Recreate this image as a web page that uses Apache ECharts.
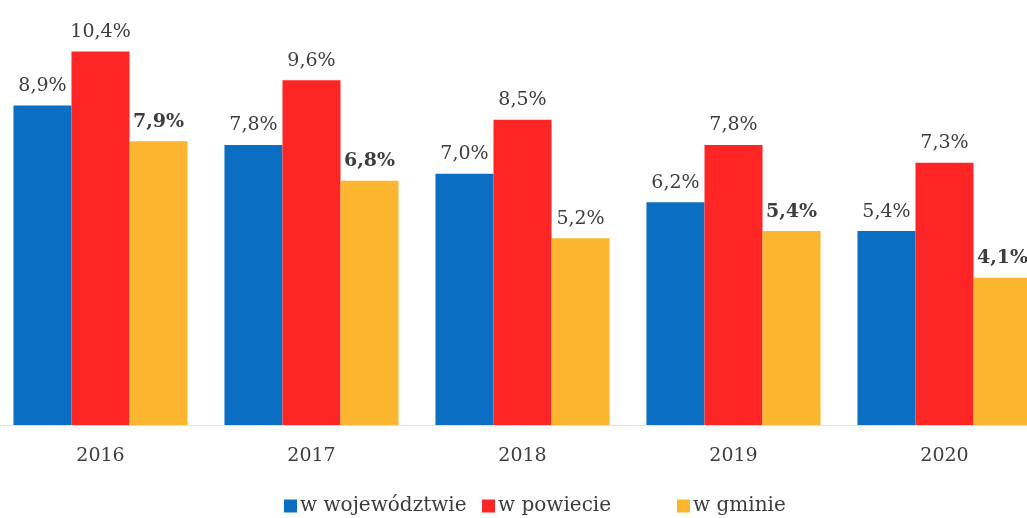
<!DOCTYPE html>
<html>
<head>
<meta charset="utf-8">
<script src="https://cdn.jsdelivr.net/npm/echarts@6/dist/echarts.min.js"></script>
<style>html,body{margin:0;padding:0;background:#fff;}#c{width:1027px;height:518px;}</style>
</head>
<body>
<div id="c"></div>
<script>
var years = ['2016', '2017', '2018', '2019', '2020'];
var seriesNames = ['w województwie', 'w powiecie', 'w gminie'];
var wojewodztwo = [8.9, 7.8, 7.0, 6.2, 5.4];
var powiat = [10.4, 9.6, 8.5, 7.8, 7.3];
var gmina = [7.9, 6.8, 5.2, 5.4, 4.1];
var boldGmina = [true, true, false, true, true];
var colors = ['#0a6fc2', '#fe2525', '#fcb52e'];

var FONT = '"DejaVu Serif", "Liberation Serif", serif';
function fmt(p) { return p.value.toFixed(1).replace('.', ',') + '%'; }
function mk(name, data, color, boldArr) {
  return {
    name: name, type: 'bar', barGap: '0%', barCategoryGap: '17.5%',
    data: data.map(function (v, i) {
      return { value: v, label: { fontWeight: boldArr && boldArr[i] ? 'bold' : 'normal' } };
    }),
    itemStyle: { color: color },
    label: { show: true, position: 'top', distance: 10, formatter: fmt,
      color: '#3d3d3d', fontFamily: FONT, fontSize: 19 }
  };
}
var chart = echarts.init(document.getElementById('c'));
var legendBase = { top: 496, padding: 0, itemWidth: 13, itemHeight: 13, itemGap: 4, icon: 'rect',
  textStyle: { fontFamily: FONT, fontSize: 20, color: '#3d3d3d', padding: [0, 0, 0, -2] } };
chart.setOption({
  animation: false,
  grid: { left: -5, width: 1055, top: 30, bottom: 93, containLabel: false, outerBoundsMode: 'none' },
  legend: [
    Object.assign({ left: 284, data: [seriesNames[0]] }, legendBase),
    Object.assign({ left: 482, data: [seriesNames[1]] }, legendBase),
    Object.assign({ left: 677, data: [seriesNames[2]] }, legendBase)
  ],
  xAxis: { type: 'category', data: years,
    axisLine: { show: true, lineStyle: { color: '#e0e0e0' } }, axisTick: { show: false },
    axisLabel: { color: '#3d3d3d', fontFamily: FONT, fontSize: 19, margin: 22 } },
  yAxis: { type: 'value', min: 0, max: 11, show: false, splitLine: { show: false } },
  series: [
    mk(seriesNames[0], wojewodztwo, colors[0], null),
    mk(seriesNames[1], powiat, colors[1], null),
    mk(seriesNames[2], gmina, colors[2], boldGmina)
  ]
});
</script>
</body>
</html>
